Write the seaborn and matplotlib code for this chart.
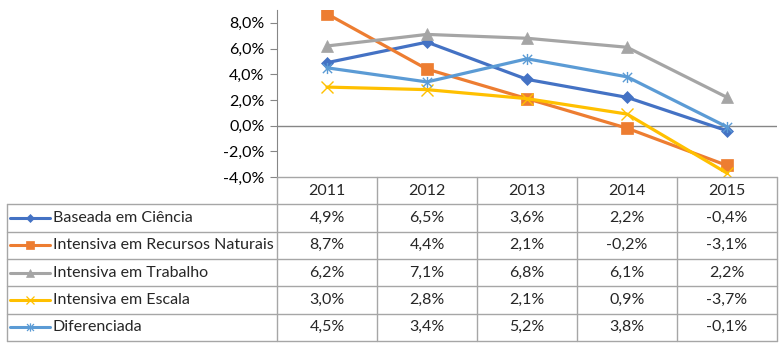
import matplotlib.pyplot as plt
import matplotlib.ticker as mticker
from matplotlib.path import Path
import seaborn as sns
import pandas as pd

years = ['2011', '2012', '2013', '2014', '2015']
series = ['Baseada em Ciência', 'Intensiva em Recursos Naturais', 'Intensiva em Trabalho',
          'Intensiva em Escala', 'Diferenciada']
ciencia = [4.9, 6.5, 3.6, 2.2, -0.4]
recursos = [8.7, 4.4, 2.1, -0.2, -3.1]
trabalho = [6.2, 7.1, 6.8, 6.1, 2.2]
escala = [3.0, 2.8, 2.1, 0.9, -3.7]
diferenciada = [4.5, 3.4, 5.2, 3.8, -0.1]
values = [ciencia, recursos, trabalho, escala, diferenciada]

# excel style star: x plus a vertical stroke
star = Path([(-1, -1), (1, 1), (-1, 1), (1, -1), (0, -1.2), (0, 1.2)],
            [Path.MOVETO, Path.LINETO, Path.MOVETO, Path.LINETO, Path.MOVETO, Path.LINETO])

colors = ['#4472C4', '#ED7D31', '#A5A5A5', '#FFC000', '#5B9BD5']
markers = ['D', 's', '^', 'x', star]
msizes = [6, 8, 8, 8, 8]
thin = [False, False, False, True, True]

sns.set_style('white')
plt.rcParams['font.family'] = ['Lato', 'DejaVu Sans']

W, H = 782, 348
fig = plt.figure(figsize=(W / 100, H / 100), dpi=100)

# plot area in pixels
px0, px1, py_top, py_bot = 277, 777, 10, 177
ax = fig.add_axes([px0 / W, 1 - py_bot / H, (px1 - px0) / W, (py_bot - py_top) / H])

for name, vals, c, m, ms, t in zip(series, values, colors, markers, msizes, thin):
    df = pd.DataFrame({'x': range(len(years)), 'y': vals})
    sns.lineplot(data=df, x='x', y='y', ax=ax, color=c, linewidth=2.3,
                 marker=m, markersize=ms, markeredgecolor=c, markerfacecolor=c,
                 markeredgewidth=1.0 if t else 0.5)

ax.set_xlim(-0.5, len(years) - 0.5)
ax.set_ylim(-4, 9)
ax.axhline(0, color='#868686', linewidth=1, zorder=0)
ax.yaxis.set_major_locator(mticker.MultipleLocator(2))
ax.yaxis.set_major_formatter(mticker.FuncFormatter(lambda v, p: f'{v:.1f}%'.replace('.', ',')))
ax.set_xticks([])
ax.set_xlabel('')
ax.set_ylabel('')
for s in ['top', 'right', 'bottom']:
    ax.spines[s].set_visible(False)
ax.spines['left'].set_color('#868686')
ax.tick_params(axis='y', direction='out', length=5, color='#868686', labelsize=11.5,
               labelcolor='black', left=True, pad=4)

# data table below the plot
tx0, ty0, ty1 = 7, 177, 341
tab = fig.add_axes([tx0 / W, 1 - ty1 / H, (px1 - tx0) / W, (ty1 - ty0) / H])
left = -0.5 - (px0 - tx0) / 100
tab.set_xlim(left, len(years) - 0.5)
tab.set_ylim(len(series) + 1, 0)
tab.axis('off')
gc = '#A6A6A6'
tab.plot([-0.5, len(years) - 0.5], [0, 0], color=gc, lw=1, clip_on=False)
for r in range(1, len(series) + 2):
    tab.plot([left, len(years) - 0.5], [r, r], color=gc, lw=1, clip_on=False)
tab.plot([left, left], [1, len(series) + 1], color=gc, lw=1, clip_on=False)
for cidx in range(len(years) + 1):
    tab.plot([cidx - 0.5, cidx - 0.5], [0, len(series) + 1], color=gc, lw=1, clip_on=False)

for j, yr in enumerate(years):
    tab.text(j, 0.5, yr, ha='center', va='center', fontsize=11.5)
for i, (name, vals, c, m, ms, t) in enumerate(zip(series, values, colors, markers, msizes, thin)):
    yc = i + 1.5
    tab.plot([left + 0.03, left + 0.43], [yc, yc], color=c, lw=2.2, clip_on=False)
    tab.plot([left + 0.23], [yc], marker=m, color=c, markersize=ms * 0.75,
             markeredgewidth=0.9 if t else 0.5, clip_on=False)
    tab.text(left + 0.46, yc, name, ha='left', va='center', fontsize=11.5)
    for j, v in enumerate(vals):
        tab.text(j, yc, f'{v:.1f}%'.replace('.', ','), ha='center', va='center', fontsize=11.5)

fig.savefig('out.png', dpi=100)
